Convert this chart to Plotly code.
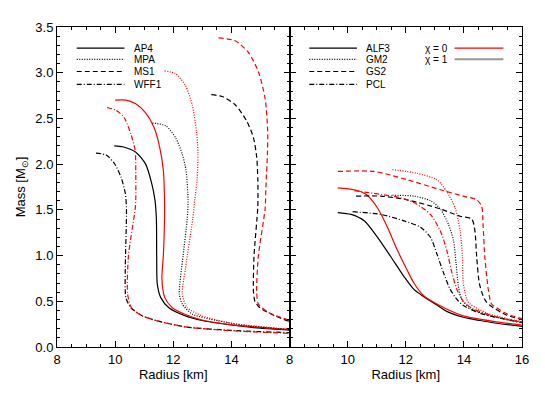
import plotly.graph_objects as go
from plotly.subplots import make_subplots

# --- left panel: AP4, MPA, MS1, WFF1 (R in km, M in Msun) ---
ap4_c0_r = [10.00, 10.37, 10.71, 11.05, 11.34, 11.53, 11.66, 11.70, 11.70, 11.66, 11.61, 11.71, 11.97, 12.42, 13.00, 14.13, 16.00]
ap4_c0_m = [2.70, 2.70, 2.66, 2.56, 2.40, 2.19, 1.93, 1.61, 1.40, 1.00, 0.75, 0.54, 0.43, 0.355, 0.295, 0.24, 0.19]
ap4_c1_r = [9.97, 10.26, 10.71, 11.05, 11.25, 11.37, 11.42, 11.43, 11.45, 11.57, 11.85, 12.42, 12.99, 14.13, 15.00, 16.00]
ap4_c1_m = [2.20, 2.19, 2.13, 2.00, 1.80, 1.61, 1.40, 1.00, 0.69, 0.54, 0.43, 0.34, 0.29, 0.235, 0.205, 0.185]

mpa_c0_r = [11.70, 12.08, 12.42, 12.65, 12.80, 12.85, 12.82, 12.74, 12.67, 12.42, 12.31, 12.48, 13.00, 14.00, 16.00]
mpa_c0_m = [3.02, 2.99, 2.86, 2.65, 2.36, 2.11, 1.83, 1.61, 1.40, 0.86, 0.58, 0.43, 0.34, 0.26, 0.195]
mpa_c1_r = [11.28, 11.74, 12.08, 12.31, 12.44, 12.51, 12.48, 12.34, 12.21, 12.31, 12.65, 13.50, 14.50, 16.00]
mpa_c1_m = [2.45, 2.42, 2.29, 2.11, 1.93, 1.61, 1.40, 1.00, 0.58, 0.47, 0.36, 0.29, 0.235, 0.19]

ms1_c0_r = [13.56, 14.13, 14.59, 14.93, 15.16, 15.25, 15.24, 15.19, 15.16, 14.93, 14.87, 14.93, 15.27, 16.00]
ms1_c0_m = [3.38, 3.35, 3.22, 3.01, 2.72, 2.36, 2.11, 1.76, 1.51, 1.00, 0.61, 0.47, 0.38, 0.29]
ms1_c1_r = [13.31, 13.68, 14.13, 14.53, 14.76, 14.87, 14.91, 14.91, 14.78, 14.76, 14.81, 14.98, 15.50, 16.00]
ms1_c1_m = [2.76, 2.74, 2.65, 2.47, 2.29, 2.08, 1.83, 1.54, 1.00, 0.61, 0.50, 0.43, 0.34, 0.28]

wff1_c0_r = [9.72, 10.03, 10.31, 10.54, 10.69, 10.71, 10.71, 10.69, 10.46, 10.43, 10.56, 10.94, 11.40, 12.42, 14.13, 16.00]
wff1_c0_m = [2.62, 2.59, 2.51, 2.33, 2.15, 1.93, 1.61, 1.51, 1.00, 0.58, 0.43, 0.34, 0.29, 0.22, 0.175, 0.15]
wff1_c1_r = [9.34, 9.69, 9.97, 10.20, 10.35, 10.39, 10.35, 10.37, 10.54, 10.94, 11.40, 12.42, 14.13, 16.00]
wff1_c1_m = [2.12, 2.10, 2.01, 1.86, 1.68, 1.51, 0.86, 0.54, 0.43, 0.34, 0.29, 0.22, 0.18, 0.157]

# --- right panel: ALF3, GM2, GS2, PCL ---
alf3_c0_r = [9.66, 10.23, 10.63, 11.03, 11.37, 11.71, 12.05, 12.28, 12.62, 13.07, 13.98, 15.12, 16.00]
alf3_c0_m = [1.74, 1.72, 1.67, 1.52, 1.31, 1.06, 0.84, 0.70, 0.56, 0.47, 0.34, 0.275, 0.24]
alf3_c1_r = [9.66, 10.12, 10.57, 11.03, 11.48, 11.94, 12.28, 12.62, 13.07, 13.41, 13.98, 14.55, 15.12, 16.00]
alf3_c1_m = [1.47, 1.45, 1.38, 1.20, 0.99, 0.77, 0.63, 0.55, 0.46, 0.39, 0.325, 0.29, 0.26, 0.225]

gm2_c0_r = [11.54, 12.39, 13.07, 13.41, 13.70, 13.87, 13.95, 13.98, 14.10, 14.21, 14.80, 15.50, 16.00]
gm2_c0_m = [1.94, 1.90, 1.83, 1.70, 1.52, 1.27, 0.99, 0.70, 0.52, 0.47, 0.37, 0.31, 0.28]
gm2_c1_r = [11.54, 12.28, 12.85, 13.19, 13.47, 13.64, 13.73, 13.81, 13.93, 14.20, 14.80, 15.50, 16.00]
gm2_c1_m = [1.66, 1.65, 1.60, 1.51, 1.34, 1.17, 0.92, 0.67, 0.52, 0.43, 0.35, 0.30, 0.27]

gs2_c0_r = [9.66, 10.91, 12.05, 13.19, 13.98, 14.44, 14.61, 14.66, 14.72, 14.84, 14.95, 15.12, 15.50, 16.00]
gs2_c0_m = [1.92, 1.92, 1.83, 1.72, 1.65, 1.61, 1.54, 1.34, 0.99, 0.63, 0.47, 0.43, 0.36, 0.31]
gs2_c1_r = [10.29, 11.14, 12.05, 13.19, 13.87, 14.27, 14.38, 14.44, 14.53, 14.66, 14.78, 15.01, 15.46, 16.00]
gs2_c1_m = [1.65, 1.65, 1.61, 1.51, 1.43, 1.40, 1.27, 0.99, 0.70, 0.56, 0.49, 0.43, 0.35, 0.30]

pcl_c0_r = [10.23, 10.91, 11.71, 12.28, 12.85, 13.19, 13.41, 13.59, 13.76, 13.98, 14.30, 14.90, 15.50, 16.00]
pcl_c0_m = [1.71, 1.68, 1.64, 1.58, 1.45, 1.27, 1.06, 0.81, 0.63, 0.50, 0.42, 0.35, 0.30, 0.27]
pcl_c1_r = [10.17, 11.14, 11.94, 12.51, 12.85, 13.07, 13.30, 13.53, 13.76, 14.00, 14.55, 15.46, 16.00]
pcl_c1_m = [1.48, 1.45, 1.38, 1.31, 1.20, 1.02, 0.81, 0.63, 0.52, 0.45, 0.37, 0.30, 0.265]

left_names = ["AP4", "MPA", "MS1", "WFF1"]
right_names = ["ALF3", "GM2", "GS2", "PCL"]
chi_labels = ["\u03c7 = 0", "\u03c7 = 1"]

SOLID = "solid"
DOT = "1px,1.5px"
DASH = "5px,3px"
DASHDOT = "5px,2px,1px,2px"
styles = [SOLID, DOT, DASH, DASHDOT]
RED = "#ff0000"
BLACK = "#000000"

left_curves = [
    (ap4_c1_r, ap4_c1_m, ap4_c0_r, ap4_c0_m),
    (mpa_c1_r, mpa_c1_m, mpa_c0_r, mpa_c0_m),
    (ms1_c1_r, ms1_c1_m, ms1_c0_r, ms1_c0_m),
    (wff1_c1_r, wff1_c1_m, wff1_c0_r, wff1_c0_m),
]
right_curves = [
    (alf3_c1_r, alf3_c1_m, alf3_c0_r, alf3_c0_m),
    (gm2_c1_r, gm2_c1_m, gm2_c0_r, gm2_c0_m),
    (gs2_c1_r, gs2_c1_m, gs2_c0_r, gs2_c0_m),
    (pcl_c1_r, pcl_c1_m, pcl_c0_r, pcl_c0_m),
]

fig = make_subplots(rows=1, cols=2, shared_yaxes=True, horizontal_spacing=0)

for col, curves, names in [(1, left_curves, left_names), (2, right_curves, right_names)]:
    for (r1, m1, r0, m0), dash, name in zip(curves, styles, names):
        for r, m, color in [(r1, m1, BLACK), (r0, m0, RED)]:
            fig.add_trace(
                go.Scatter(
                    x=r, y=m, mode="lines", name=name, showlegend=False,
                    line=dict(color=color, width=1.2, dash=dash, shape="spline", smoothing=0.7),
                ),
                row=1, col=col,
            )

font = dict(family="Liberation Sans, Arial, sans-serif", size=13, color="black")
leg_font = dict(family="Liberation Sans, Arial, sans-serif", size=10, color="black")

# hand-made legends, IDL style
rows_y = [0.934, 0.899, 0.861, 0.821]
for xr, names in [("x domain", left_names), ("x2 domain", right_names)]:
    for name, dash, yy in zip(names, styles, rows_y):
        fig.add_shape(type="line", xref=xr, yref="y domain", x0=0.085, x1=0.29, y0=yy, y1=yy,
                      line=dict(color=BLACK, width=1.2, dash=dash))
        fig.add_annotation(xref=xr, yref="y domain", x=0.325, y=yy, text=name, showarrow=False,
                           xanchor="left", yanchor="middle", font=leg_font, height=12, borderpad=0)

for label, color, width, yy in zip(chi_labels, [RED, "#999999"], [1.2, 2], rows_y[:2]):
    fig.add_annotation(xref="x2 domain", yref="y domain", x=0.58, y=yy, text=label, showarrow=False,
                       xanchor="left", yanchor="middle", font=leg_font, height=12, borderpad=0)
    fig.add_shape(type="line", xref="x2 domain", yref="y domain", x0=0.71, x1=0.92, y0=yy, y1=yy,
                  line=dict(color=color, width=width))

axis_common = dict(
    range=[8, 16], showline=True, linecolor="black", linewidth=1, mirror="ticks",
    ticks="inside", ticklen=6, tickcolor="black", showgrid=False, zeroline=False,
    minor=dict(dtick=0.5, ticks="inside", ticklen=3, tickcolor="black"),
    title=dict(text="Radius [km]", font=font, standoff=3), tickfont=font,
)
fig.update_xaxes(tickvals=[8, 10, 12, 14], row=1, col=1, **axis_common)
fig.update_xaxes(tickvals=[8, 10, 12, 14, 16], row=1, col=2, **axis_common)

fig.update_yaxes(
    range=[0, 3.5], dtick=0.5, tickformat=".1f", showline=True, linecolor="black", linewidth=1,
    mirror="ticks", ticks="inside", ticklen=6, tickcolor="black", showgrid=False, zeroline=False,
    minor=dict(dtick=0.1, ticks="inside", ticklen=3, tickcolor="black"), tickfont=font,
)
fig.update_yaxes(title=dict(text="Mass [M<sub>\u2299</sub>]", font=font, standoff=6), row=1, col=1)

# the page keeps the browser's 8px body margin, so the figure is 8px smaller
fig.update_layout(
    width=537, height=401, margin=dict(l=46, r=23, t=13, b=62),
    plot_bgcolor="white", paper_bgcolor="white", font=font, showlegend=False,
)

fig.write_html("out.html")
